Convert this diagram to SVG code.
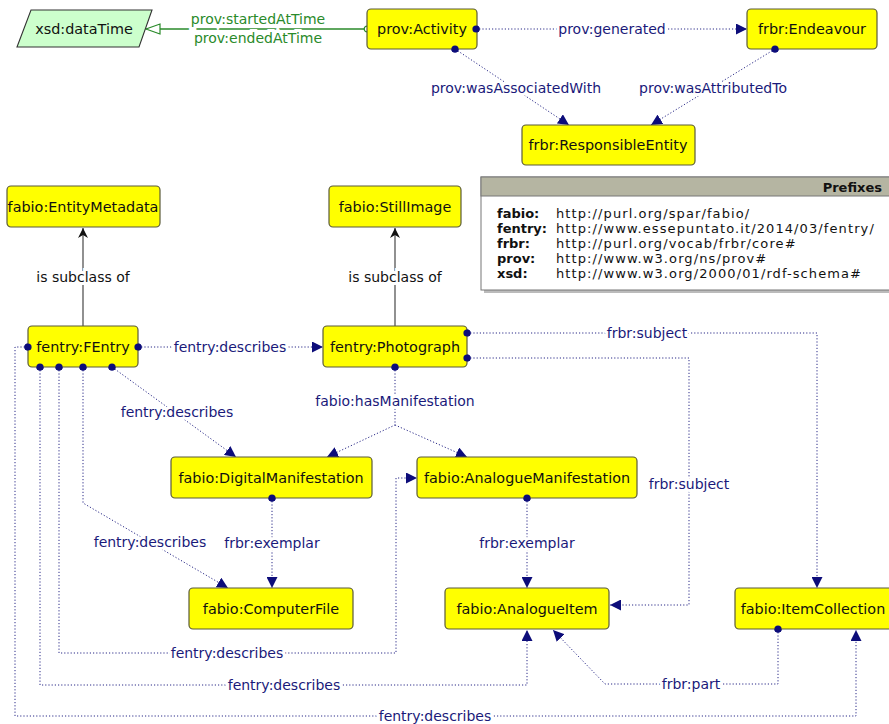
<svg xmlns="http://www.w3.org/2000/svg" width="889" height="724" viewBox="0 0 889 724">
<style>
.n rect{fill:#ffff00;stroke:#5a5a3a;stroke-width:1.2}
.nl{font-family:"DejaVu Sans","Liberation Sans",sans-serif;font-size:14.4px;fill:#111;text-anchor:middle}
.e{stroke:#2a2a88;stroke-width:1;fill:none;stroke-dasharray:1.2 2}
.el{font-family:"DejaVu Sans","Liberation Sans",sans-serif;font-size:14px;fill:#1a1a7a;text-anchor:middle;stroke:#fff;stroke-width:6;paint-order:stroke;stroke-linejoin:round}
.sub{stroke:#555;stroke-width:1.3;fill:none}
.sl{font-family:"DejaVu Sans","Liberation Sans",sans-serif;font-size:14px;fill:#111;text-anchor:middle;stroke:#fff;stroke-width:6;paint-order:stroke}
.g{stroke:#2a8a2a;stroke-width:1.3;fill:none}
.gl{font-family:"DejaVu Sans","Liberation Sans",sans-serif;font-size:14px;fill:#2a8a2a;text-anchor:middle;stroke:#fff;stroke-width:6;paint-order:stroke}
.pf{font-family:"DejaVu Sans","Liberation Sans",sans-serif;font-size:13px;fill:#111;letter-spacing:1.1px}
.pfb{font-weight:bold;letter-spacing:0}
</style>
<defs>
<marker id="arr" viewBox="0 0 10 10" refX="10" refY="5" markerWidth="11" markerHeight="11" markerUnits="userSpaceOnUse" orient="auto">
<path d="M0,0 L10,5 L0,10 z" fill="#0d0d7a"/>
</marker>
<marker id="dot" viewBox="0 0 8 8" refX="4" refY="4" markerWidth="8" markerHeight="8" markerUnits="userSpaceOnUse">
<circle cx="4" cy="4" r="3.6" fill="#0d0d7a"/>
</marker>
<marker id="subarr" viewBox="0 0 10 10" refX="10" refY="5" markerWidth="10" markerHeight="10" markerUnits="userSpaceOnUse" orient="auto">
<path d="M0,0 L10,5 L0,10 L3,5 z" fill="#111"/>
</marker>
<marker id="garr" viewBox="0 0 16 12" refX="15" refY="6" markerWidth="16" markerHeight="12" markerUnits="userSpaceOnUse" orient="auto">
<path d="M1,1 L15,6 L1,11 z" fill="#fff" stroke="#2a8a2a" stroke-width="1.2"/>
</marker>
<marker id="gcirc" viewBox="0 0 8 8" refX="4" refY="4" markerWidth="8" markerHeight="8" markerUnits="userSpaceOnUse">
<circle cx="4" cy="4" r="2.8" fill="#fff" stroke="#2a8a2a" stroke-width="1.2"/>
</marker>
</defs>

<rect width="889" height="724" fill="#fff"/>

<!-- Prefix box -->
<g id="prefixes">
<rect x="484" y="180" width="420" height="113" fill="#bbb"/>
<rect x="481" y="177" width="420" height="113" fill="#fff" stroke="#777" stroke-width="1"/>
<rect x="481" y="177" width="420" height="19" fill="#b5b5a2" stroke="#777" stroke-width="1"/>
<text class="pf pfb" x="882" y="192" text-anchor="end">Prefixes</text>
<text class="pf pfb" x="497" y="218">fabio:</text><text class="pf" x="556" y="218">http://purl.org/spar/fabio/</text>
<text class="pf pfb" x="497" y="233">fentry:</text><text class="pf" x="556" y="233">http://www.essepuntato.it/2014/03/fentry/</text>
<text class="pf pfb" x="497" y="248">frbr:</text><text class="pf" x="556" y="248">http://purl.org/vocab/frbr/core#</text>
<text class="pf pfb" x="497" y="263">prov:</text><text class="pf" x="556" y="263">http://www.w3.org/ns/prov#</text>
<text class="pf pfb" x="497" y="278">xsd:</text><text class="pf" x="556" y="278">http://www.w3.org/2000/01/rdf-schema#</text>
</g>

<!-- Connectors -->
<g id="connectors">
<path class="g" d="M367,29 L146,29" marker-start="url(#gcirc)" marker-end="url(#garr)"/>
<text class="gl" x="258" y="24">prov:startedAtTime</text>
<text class="gl" x="258" y="43">prov:endedAtTime</text>

<path class="e" d="M476,29 L747,29" marker-start="url(#dot)" marker-end="url(#arr)"/>
<text class="el" x="612" y="34">prov:generated</text>
<path class="e" d="M455,49 L569,125" marker-start="url(#dot)" marker-end="url(#arr)"/>
<text class="el" x="516" y="93">prov:wasAssociatedWith</text>
<path class="e" d="M775,49 L651,125" marker-start="url(#dot)" marker-end="url(#arr)"/>
<text class="el" x="713" y="93">prov:wasAttributedTo</text>

<path class="sub" d="M83,326 L83,228" marker-end="url(#subarr)"/>
<text class="sl" x="83" y="282">is subclass of</text>
<path class="sub" d="M395,326 L395,228" marker-end="url(#subarr)"/>
<text class="sl" x="395" y="282">is subclass of</text>

<path class="e" d="M138,347 L323,347" marker-start="url(#dot)" marker-end="url(#arr)"/>
<text class="el" x="230" y="352">fentry:describes</text>

<path class="e" d="M28,347 L15,347 L15,716 L856,716 L856,630" marker-start="url(#dot)" marker-end="url(#arr)"/>
<text class="el" x="435" y="721">fentry:describes</text>

<path class="e" d="M40,367 L40,685 L527,685 L527,630" marker-start="url(#dot)" marker-end="url(#arr)"/>
<text class="el" x="284" y="690">fentry:describes</text>

<path class="e" d="M59,367 L59,653 L396,653 L396,478 L417,478" marker-start="url(#dot)" marker-end="url(#arr)"/>
<text class="el" x="227" y="658">fentry:describes</text>

<path class="e" d="M83,367 L83,503 L228,588" marker-start="url(#dot)" marker-end="url(#arr)"/>
<text class="el" x="150" y="547">fentry:describes</text>

<path class="e" d="M112,367 L236,457" marker-start="url(#dot)" marker-end="url(#arr)"/>
<text class="el" x="177" y="417">fentry:describes</text>

<path class="e" d="M395,367 L395,425 L327,457" marker-start="url(#dot)" marker-end="url(#arr)"/>
<path class="e" d="M395,425 L467,457" marker-end="url(#arr)"/>
<text class="el" x="395" y="406">fabio:hasManifestation</text>

<path class="e" d="M467,333 L817,333 L817,588" marker-start="url(#dot)" marker-end="url(#arr)"/>
<text class="el" x="647" y="338">frbr:subject</text>

<path class="e" d="M467,358 L689,358 L689,605 L610,605" marker-start="url(#dot)" marker-end="url(#arr)"/>
<text class="el" x="689" y="489">frbr:subject</text>

<path class="e" d="M272,498 L272,588" marker-start="url(#dot)" marker-end="url(#arr)"/>
<text class="el" x="272" y="548">frbr:exemplar</text>

<path class="e" d="M527,498 L527,588" marker-start="url(#dot)" marker-end="url(#arr)"/>
<text class="el" x="527" y="548">frbr:exemplar</text>

<path class="e" d="M778,629 L778,684 L605,684 L553,630" marker-start="url(#dot)" marker-end="url(#arr)"/>
<text class="el" x="691" y="689">frbr:part</text>
</g>

<!-- Nodes -->
<g id="xsd-dataTime">
<polygon points="31,10 152,10 139,47 17,47" fill="#ccffcc" stroke="#333" stroke-width="1.1"/>
<text class="nl" x="84" y="34">xsd:dataTime</text>
</g>
<g id="prov-Activity" class="n"><rect x="367" y="9" width="110" height="40" rx="4"/><text class="nl" x="422" y="34">prov:Activity</text></g>
<g id="frbr-Endeavour" class="n"><rect x="747" y="9" width="130" height="40" rx="4"/><text class="nl" x="812" y="34">frbr:Endeavour</text></g>
<g id="frbr-ResponsibleEntity" class="n"><rect x="522" y="125" width="173" height="40" rx="4"/><text class="nl" x="608" y="150">frbr:ResponsibleEntity</text></g>
<g id="fabio-EntityMetadata" class="n"><rect x="7" y="186" width="153" height="41" rx="4"/><text class="nl" x="83" y="212">fabio:EntityMetadata</text></g>
<g id="fabio-StillImage" class="n"><rect x="329" y="186" width="132" height="41" rx="4"/><text class="nl" x="395" y="212">fabio:StillImage</text></g>
<g id="fentry-FEntry" class="n"><rect x="28" y="326" width="110" height="41" rx="4"/><text class="nl" x="83" y="352">fentry:FEntry</text></g>
<g id="fentry-Photograph" class="n"><rect x="323" y="326" width="144" height="41" rx="4"/><text class="nl" x="395" y="352">fentry:Photograph</text></g>
<g id="fabio-DigitalManifestation" class="n"><rect x="171" y="457" width="201" height="41" rx="4"/><text class="nl" x="271" y="483">fabio:DigitalManifestation</text></g>
<g id="fabio-AnalogueManifestation" class="n"><rect x="417" y="457" width="220" height="41" rx="4"/><text class="nl" x="527" y="483">fabio:AnalogueManifestation</text></g>
<g id="fabio-ComputerFile" class="n"><rect x="189" y="588" width="164" height="41" rx="4"/><text class="nl" x="271" y="614">fabio:ComputerFile</text></g>
<g id="fabio-AnalogueItem" class="n"><rect x="445" y="588" width="164" height="41" rx="4"/><text class="nl" x="527" y="614">fabio:AnalogueItem</text></g>
<g id="fabio-ItemCollection" class="n"><rect x="735" y="588" width="160" height="41" rx="4"/><text class="nl" x="813" y="614">fabio:ItemCollection</text></g>

<!-- dots on top of nodes -->
<g id="dots" fill="#0d0d7a">
<circle cx="40" cy="367" r="3.6"/><circle cx="59" cy="367" r="3.6"/><circle cx="83" cy="367" r="3.6"/><circle cx="112" cy="367" r="3.6"/>
<circle cx="28" cy="347" r="3.6"/><circle cx="138" cy="347" r="3.6"/>
<circle cx="467" cy="333" r="3.6"/><circle cx="467" cy="358" r="3.6"/><circle cx="395" cy="367" r="3.6"/>
<circle cx="476" cy="29" r="3.6"/><circle cx="455" cy="49" r="3.6"/><circle cx="775" cy="49" r="3.6"/>
<circle cx="272" cy="498" r="3.6"/><circle cx="527" cy="498" r="3.6"/><circle cx="778" cy="629" r="3.6"/>
</g>
</svg>
